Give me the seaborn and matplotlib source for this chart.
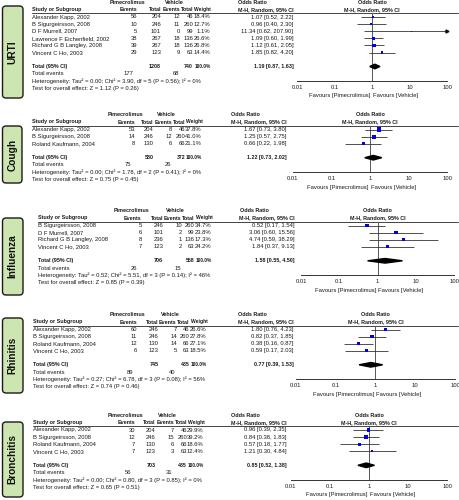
import numpy as np
import matplotlib
matplotlib.use("Agg")
import matplotlib.pyplot as plt
import seaborn as sns
from matplotlib.patches import FancyBboxPatch

# ---------------- data ----------------
tick_values = [0.01, 0.1, 1, 10, 100]
tick_labels = ["0.01", "0.1", "1", "10", "100"]

urti_studies = ["Alexander Kapp, 2002", "B Sigurgeirsson, 2008", "D F Murrell, 2007",
                "Lawrence F Eichenfield, 2002", "Richard G B Langley, 2008", "Vincent C Ho, 2003"]
urti_pim_events = [56, 10, 5, 38, 39, 29]
urti_pim_total = [204, 246, 101, 267, 267, 123]
urti_veh_events = [12, 11, 0, 18, 18, 9]
urti_veh_total = [46, 260, 99, 136, 136, 63]
urti_weight = [18.4, 12.7, 1.1, 26.6, 26.8, 14.4]
urti_or = [1.07, 0.96, 11.34, 1.09, 1.12, 1.85]
urti_lo = [0.52, 0.40, 0.62, 0.60, 0.61, 0.82]
urti_hi = [2.22, 2.30, 207.90, 1.99, 2.05, 4.20]
urti_total = [1.19, 0.87, 1.63]
urti_het = "Heterogeneity: Tau² = 0.00; Chi² = 3.90, df = 5 (P = 0.56); I² = 0%"
urti_test = "Test for overall effect: Z = 1.12 (P = 0.26)"

cough_studies = ["Alexander Kapp, 2002", "B Sigurgeirsson, 2008", "Roland Kaufmann, 2004"]
cough_pim_events = [53, 14, 8]
cough_pim_total = [204, 246, 130]
cough_veh_events = [8, 12, 6]
cough_veh_total = [46, 260, 66]
cough_weight = [37.8, 41.0, 21.1]
cough_or = [1.67, 1.25, 0.66]
cough_lo = [0.73, 0.57, 0.22]
cough_hi = [3.80, 2.75, 1.98]
cough_total = [1.22, 0.73, 2.02]
cough_het = "Heterogeneity: Tau² = 0.00; Chi² = 1.78, df = 2 (P = 0.41); I² = 0%"
cough_test = "Test for overall effect: Z = 0.75 (P = 0.45)"

flu_studies = ["B Sigurgeirsson, 2008", "D F Murrell, 2007", "Richard G B Langley, 2008", "Vincent C Ho, 2003"]
flu_pim_events = [5, 6, 8, 7]
flu_pim_total = [246, 101, 236, 123]
flu_veh_events = [10, 2, 1, 2]
flu_veh_total = [260, 99, 136, 63]
flu_weight = [34.7, 23.8, 17.3, 24.2]
flu_or = [0.52, 3.06, 4.74, 1.84]
flu_lo = [0.17, 0.60, 0.59, 0.37]
flu_hi = [1.54, 15.56, 38.29, 9.13]
flu_total = [1.58, 0.55, 4.50]
flu_het = "Heterogeneity: Tau² = 0.52; Chi² = 5.51, df = 3 (P = 0.14); I² = 46%"
flu_test = "Test for overall effect: Z = 0.85 (P = 0.39)"

rhin_studies = ["Alexander Kapp, 2002", "B Sigurgeirsson, 2008", "Roland Kaufmann, 2004", "Vincent C Ho, 2003"]
rhin_pim_events = [60, 11, 12, 6]
rhin_pim_total = [246, 246, 130, 123]
rhin_veh_events = [7, 14, 14, 5]
rhin_veh_total = [46, 260, 66, 63]
rhin_weight = [26.6, 27.8, 27.1, 18.5]
rhin_or = [1.80, 0.82, 0.38, 0.59]
rhin_lo = [0.76, 0.37, 0.16, 0.17]
rhin_hi = [4.23, 1.85, 0.87, 2.03]
rhin_total = [0.77, 0.39, 1.53]
rhin_het = "Heterogeneity: Tau² = 0.27; Chi² = 6.78, df = 3 (P = 0.08); I² = 56%"
rhin_test = "Test for overall effect: Z = 0.74 (P = 0.46)"

bron_studies = ["Alexander Kapp, 2002", "B Sigurgeirsson, 2008", "Roland Kaufmann, 2004", "Vincent C Ho, 2003"]
bron_pim_events = [30, 12, 7, 7]
bron_pim_total = [204, 246, 130, 123]
bron_veh_events = [7, 15, 6, 3]
bron_veh_total = [46, 260, 66, 63]
bron_weight = [29.9, 39.2, 18.6, 12.4]
bron_or = [0.96, 0.84, 0.57, 1.21]
bron_lo = [0.39, 0.38, 0.18, 0.30]
bron_hi = [2.35, 1.83, 1.77, 4.84]
bron_total = [0.85, 0.52, 1.38]
bron_het = "Heterogeneity: Tau² = 0.00; Chi² = 0.80, df = 3 (P = 0.85); I² = 0%"
bron_test = "Test for overall effect: Z = 0.65 (P = 0.51)"

panel_names = ["URTI", "Cough", "Influenza", "Rhinitis", "Bronchitis"]

# ---------------- layout (pixels) ----------------
# top of header, box (x0,y0,x1,y1), columns [study, pimE, pimT, vehE, vehT, weight, OR, forest_lo, forest_hi]
layouts = [
    dict(top=2.5, box=(2.5, 6, 23, 98), cols=[32.3, 137, 161, 180, 193, 210, 293.3, 297, 447]),
    dict(top=115, box=(2.5, 126, 22, 183), cols=[32.3, 135, 153.5, 172, 185, 201.5, 286.7, 293, 447]),
    dict(top=211, box=(2.5, 218, 23, 295), cols=[38.3, 141.7, 163.3, 181.7, 194.6, 211.7, 295, 301, 454]),
    dict(top=315, box=(2.5, 318, 23, 393), cols=[33.3, 137.3, 158.3, 176.7, 189.6, 206.7, 293.3, 295.7, 455]),
    dict(top=415.5, box=(2.5, 422, 23, 497), cols=[33.3, 135, 155.8, 173.8, 187, 203.5, 286.7, 291, 447]),
]

panels_data = [
    (urti_studies, urti_pim_events, urti_pim_total, urti_veh_events, urti_veh_total, urti_weight,
     urti_or, urti_lo, urti_hi, urti_total, urti_het, urti_test),
    (cough_studies, cough_pim_events, cough_pim_total, cough_veh_events, cough_veh_total, cough_weight,
     cough_or, cough_lo, cough_hi, cough_total, cough_het, cough_test),
    (flu_studies, flu_pim_events, flu_pim_total, flu_veh_events, flu_veh_total, flu_weight,
     flu_or, flu_lo, flu_hi, flu_total, flu_het, flu_test),
    (rhin_studies, rhin_pim_events, rhin_pim_total, rhin_veh_events, rhin_veh_total, rhin_weight,
     rhin_or, rhin_lo, rhin_hi, rhin_total, rhin_het, rhin_test),
    (bron_studies, bron_pim_events, bron_pim_total, bron_veh_events, bron_veh_total, bron_weight,
     bron_or, bron_lo, bron_hi, bron_total, bron_het, bron_test),
]

sns.set_theme(style="white")
plt.rcParams['font.family'] = ['Liberation Sans', 'DejaVu Sans']

W, H = 460, 500
FS = 4.2
FSB = 3.85
TXT = "#1a1a1a"
fig = plt.figure(figsize=(4.6, 5.0), dpi=100)
ax0 = fig.add_axes([0, 0, 1, 1])
ax0.set_xlim(0, W)
ax0.set_ylim(H, 0)
ax0.axis('off')


def t(x, y, s, ha='left', bold=False, size=None):
    ax0.text(x, y, s, ha=ha, va='center', fontsize=size or (FSB if bold else FS), color=TXT,
             fontweight='bold' if bold else 'normal')


for name, lay, d in zip(panel_names, layouts, panels_data):
    studies, pe, pt, ve, vt, wt, orv, lo, hi, tot, het, test = d
    sx, pe_r, pt_r, ve_r, vt_r, w_r, or_r, f_lo, f_hi = lay['cols']
    h1 = lay['top']
    h2 = h1 + 7
    rule = h1 + 10.5
    row1 = h1 + 14.5
    sp = 7.1
    n = len(studies)
    rows_y = row1 + sp * np.arange(n)
    total_y = rows_y[-1] + 14
    tev_y = total_y + 7.3
    het_y = tev_y + 7.2
    test_y = het_y + 7.5
    fc = (f_lo + f_hi) / 2

    # side box
    x0, y0, x1, y1 = lay['box']
    ax0.add_patch(FancyBboxPatch((x0, y0), x1 - x0, y1 - y0,
                                 boxstyle="round,pad=0,rounding_size=3.5",
                                 facecolor="#cde5b1", edgecolor="#1a1a1a", lw=1.0))
    ax0.text((x0 + x1) / 2, (y0 + y1) / 2, name, rotation=90, ha='center', va='center',
             fontsize=7.3, fontweight='bold', color="#111111", family='Liberation Sans')

    # headers
    t(pe_r - 10, h1, "Pimecrolimus", ha='center', bold=True)
    t(ve_r - 6, h1, "Vehicle", ha='center', bold=True)
    t(or_r - 41, h1, "Odds Ratio", ha='center', bold=True)
    t(fc, h1, "Odds Ratio", ha='center', bold=True)
    t(sx, h2, "Study or Subgroup", bold=True)
    t(pe_r, h2, "Events", ha='right', bold=True)
    t(pt_r, h2, "Total", ha='right', bold=True)
    t(ve_r, h2, "Events", ha='right', bold=True)
    t(vt_r, h2, "Total", ha='right', bold=True)
    t(w_r + 1, h2, "Weight", ha='right', bold=True, size=3.6)
    t(or_r, h2, "M-H, Random, 95% CI", ha='right', bold=True)
    t(fc, h2, "M-H, Random, 95% CI", ha='center', bold=True)
    ax0.plot([sx, 458], [rule, rule], color="#444444", lw=0.7)

    # study rows
    for i in range(n):
        y = rows_y[i]
        t(sx, y, studies[i])
        t(pe_r, y, str(pe[i]), ha='right')
        t(pt_r, y, str(pt[i]), ha='right')
        t(ve_r, y, str(ve[i]), ha='right')
        t(vt_r, y, str(vt[i]), ha='right')
        t(w_r, y, f"{wt[i]:.1f}%", ha='right')
        t(or_r, y, f"{orv[i]:.2f} [{lo[i]:.2f}, {hi[i]:.2f}]", ha='right')

    # totals
    t(sx, total_y, "Total (95% CI)", bold=True)
    t(pt_r, total_y, str(sum(pt)), ha='right', bold=True)
    t(vt_r, total_y, str(sum(vt)), ha='right', bold=True, size=3.7)
    t(w_r + 0.5, total_y, "100.0%", ha='right', bold=True, size=3.4)
    t(or_r, total_y, f"{tot[0]:.2f} [{tot[1]:.2f}, {tot[2]:.2f}]", ha='right', bold=True)
    t(sx, tev_y, "Total events")
    t(pe_r - 4, tev_y, str(sum(pe)), ha='right')
    t(ve_r - 1, tev_y, str(sum(ve)), ha='right')
    t(sx, het_y, het)
    t(sx, test_y, test)

    # forest axes
    fx = fig.add_axes([f_lo / W, 1 - het_y / H, (f_hi - f_lo) / W, (het_y - rule) / H])
    fx.set_facecolor('none')
    fx.set_xscale('log')
    fx.set_xlim(tick_values[0], tick_values[-1])
    fx.set_ylim(het_y, rule)
    fx.axvline(1, color="#555555", lw=0.7, zorder=1)
    hi_c = np.minimum(hi, tick_values[-1])
    fx.hlines(rows_y, lo, hi_c, color="#333333", lw=0.6, zorder=2)
    for i in range(n):
        if hi[i] > tick_values[-1]:
            fx.plot(tick_values[-1], rows_y[i], marker='>', ms=2.2, color='#111111',
                    clip_on=False, zorder=3)
    sns.scatterplot(x=orv, y=rows_y, size=wt, sizes=(0, 22), size_norm=(0, 100),
                    marker='s', color='#0000e6', edgecolor='none', legend=False,
                    ax=fx, zorder=4)
    fx.fill([tot[1], tot[0], tot[2], tot[0]],
            [total_y, total_y - 2.3, total_y, total_y + 2.3], color='black', zorder=4)
    for sp_name in ['top', 'left', 'right']:
        fx.spines[sp_name].set_visible(False)
    fx.spines['bottom'].set_color('#333333')
    fx.spines['bottom'].set_linewidth(0.7)
    fx.set_xticks(tick_values)
    fx.set_xticklabels(tick_labels)
    fx.minorticks_off()
    fx.set_yticks([])
    fx.tick_params(axis='x', direction='inout', length=3, width=0.6, labelsize=FS,
                   pad=1.2, colors='#333333', labelcolor=TXT)
    fx.set_xlabel('')
    fx.set_ylabel('')
    t(fc - 1, test_y + 7.5, "Favours [Pimecrolimus]", ha='right')
    t(fc + 1, test_y + 7.5, "Favours [Vehicle]", ha='left')

fig.savefig("out.png", dpi=100)
